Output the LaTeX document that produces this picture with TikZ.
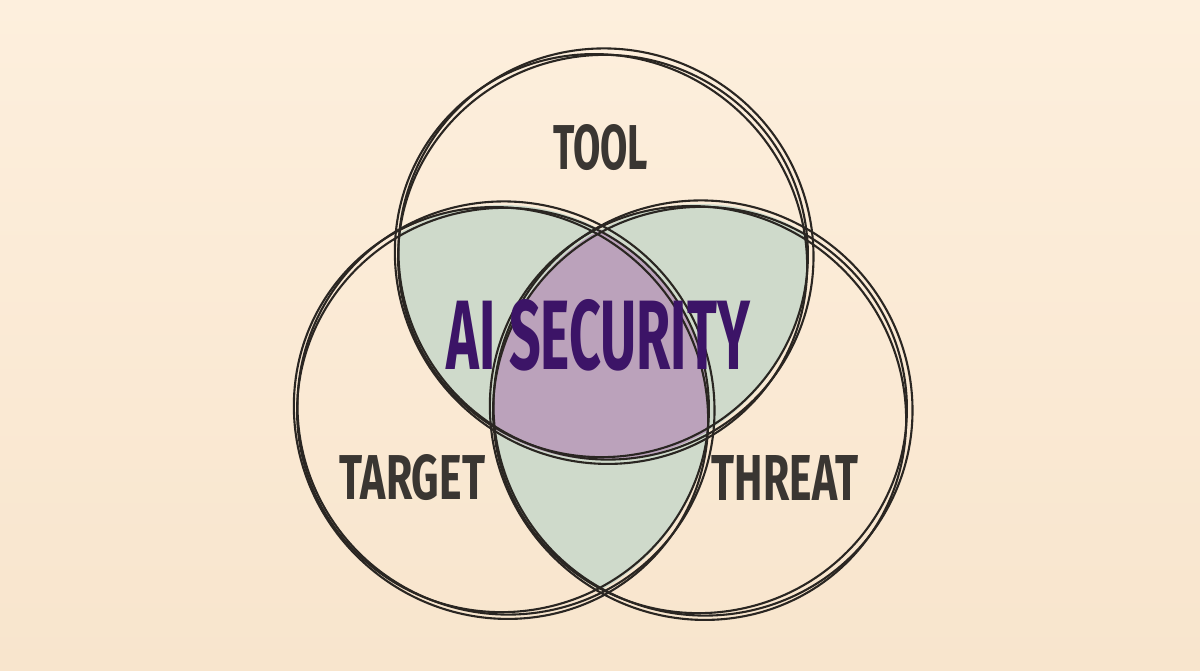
\documentclass[tikz,border=0pt]{standalone}
\usepackage{fontspec}
\usepackage{graphicx}
\setmainfont{Fira Sans}
\newfontfamily\labfont{Fira Sans}
\definecolor{bgtop}{HTML}{FDEFDD}
\definecolor{bgbot}{HTML}{F8E5CD}
\definecolor{inkc}{HTML}{2A2622}
\definecolor{greenfill}{HTML}{CFDACB}
\definecolor{purplefill}{HTML}{BBA2BB}
\definecolor{labc}{HTML}{3A3632}
\definecolor{aic}{HTML}{3C1467}
\tikzset{
  ink/.style={draw=inkc, line width=2.1pt},
  lab/.style={text=labc, inner sep=0pt, font=\labfont\bfseries},
  ailab/.style={text=aic, inner sep=0pt, font=\labfont\bfseries},
}
\newcommand\sketchring[3]{%
  \draw[ink] (#1,#2) ellipse [x radius=#3pt+1pt, y radius=#3pt-3pt, rotate=10];
  \draw[ink] (#1+3,#2-2) ellipse [x radius=#3pt+4pt, y radius=#3pt+1pt, rotate=-25];
  \draw[ink] (#1-2,#2+3) ellipse [x radius=#3pt-2pt, y radius=#3pt+5pt, rotate=50];
}
\begin{document}
\begin{tikzpicture}[x=1pt,y=-1pt]
\useasboundingbox (0,0) rectangle (1200,670);
\shade[top color=bgtop, bottom color=bgbot] (0,0) rectangle (1200,670);
% pairwise overlaps
\begin{scope}
  \clip (603,256) circle [radius=204pt];
  \clip (503,410) circle [radius=205pt];
  \fill[greenfill] (0,0) rectangle (1200,670);
\end{scope}
\begin{scope}
  \clip (603,256) circle [radius=204pt];
  \clip (700,410) circle [radius=206pt];
  \fill[greenfill] (0,0) rectangle (1200,670);
\end{scope}
\begin{scope}
  \clip (503,410) circle [radius=205pt];
  \clip (700,410) circle [radius=206pt];
  \fill[greenfill] (0,0) rectangle (1200,670);
\end{scope}
\begin{scope}
  \clip (603,256) circle [radius=204pt];
  \clip (503,410) circle [radius=205pt];
  \clip (700,410) circle [radius=206pt];
  \fill[purplefill] (0,0) rectangle (1200,670);
\end{scope}
% rings
\sketchring{603}{256}{204}
\sketchring{503}{410}{205}
\sketchring{700}{410}{206}
% labels
\node[lab] (tool) at (600.5,147.5) {\resizebox{95pt}{45pt}{TOOL}};
\node[lab] (target) at (412.5,477.5) {\resizebox{145pt}{45pt}{TARGET}};
\node[lab] (threat) at (785,477.5) {\resizebox{146pt}{45pt}{THREAT}};
\node[ailab] (ai) at (598.5,335) {\resizebox{303pt}{70pt}{AI SECURITY}};
\end{tikzpicture}
\end{document}
